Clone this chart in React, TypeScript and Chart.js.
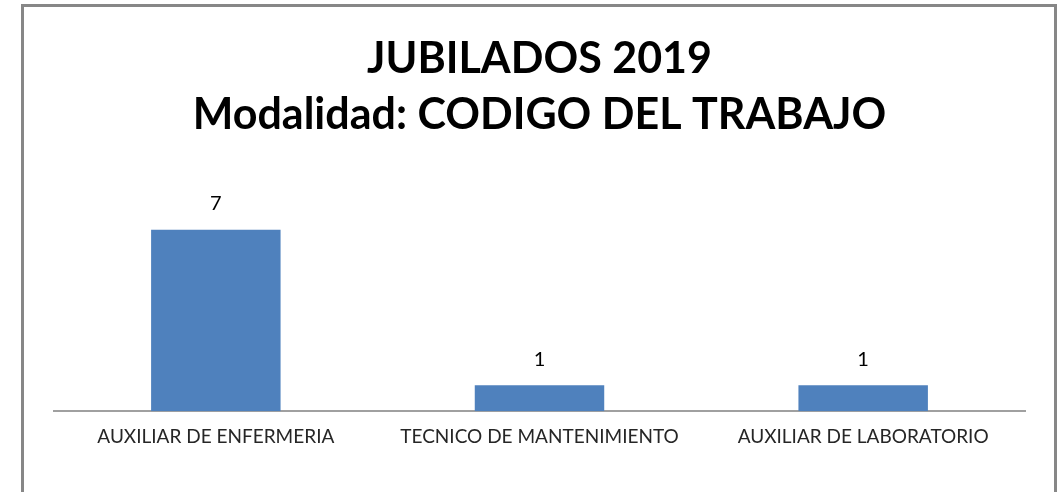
import React, { useEffect, useRef } from "react";
import { Chart, registerables } from "chart.js";

Chart.register(...registerables);

const titleLines = ["JUBILADOS 2019", "Modalidad: CODIGO DEL TRABAJO"];
const categories = ["AUXILIAR DE ENFERMERIA", "TECNICO DE MANTENIMIENTO", "AUXILIAR DE LABORATORIO"];
const values = [7, 1, 1];

const FONT = "Lato, 'Open Sans', sans-serif";

const valueLabels = {
  id: "valueLabels",
  afterDatasetsDraw(chart: any) {
    const ctx = chart.ctx;
    const meta = chart.getDatasetMeta(0);
    ctx.save();
    ctx.font = `20px ${FONT}`;
    ctx.fillStyle = "#000000";
    ctx.textAlign = "center";
    ctx.textBaseline = "middle";
    meta.data.forEach((bar: any, i: number) => {
      ctx.fillText(String(values[i]), bar.x, bar.y - 26);
    });
    ctx.restore();
  },
};

export default function App() {
  const ref = useRef<HTMLCanvasElement>(null);
  useEffect(() => {
    if (!ref.current) return;
    const chart = new Chart(ref.current, {
      type: "bar",
      data: {
        labels: categories,
        datasets: [
          {
            data: values,
            backgroundColor: "#4F81BD",
            categoryPercentage: 1,
            barPercentage: 0.4,
          },
        ],
      },
      options: {
        animation: false,
        responsive: false,
        layout: { padding: { left: 54, right: 38, top: 31, bottom: 30 } },
        plugins: {
          legend: { display: false },
          tooltip: { enabled: false },
          title: {
            display: true,
            text: titleLines,
            color: "#000000",
            font: { family: FONT, size: 43, weight: "bold", lineHeight: 1.3 },
            padding: { top: 0, bottom: 61 },
          },
        },
        scales: {
          x: {
            grid: { display: false, drawTicks: false },
            border: { display: true, color: "#A0A0A0", width: 2 },
            ticks: {
              color: "#262626",
              font: { family: FONT, size: 19 },
              padding: 14,
              maxRotation: 0,
            },
          },
          y: {
            display: false,
            min: 0,
            max: 8,
          },
        },
      },
      plugins: [valueLabels],
    });
    return () => chart.destroy();
  }, []);

  return (
    <div
      style={{
        position: "fixed",
        left: 0,
        top: 0,
        width: 1063,
        height: 492,
        overflow: "hidden",
        background: "#ffffff",
      }}
    >
      <div
        style={{
          position: "absolute",
          left: 21,
          top: 4,
          width: 1036,
          height: 520,
          border: "3px solid #878787",
          boxSizing: "border-box",
        }}
      />
      <canvas
        ref={ref}
        width={1063}
        height={492}
        style={{ position: "absolute", left: 0, top: 0, width: 1063, height: 492 }}
      />
    </div>
  );
}
